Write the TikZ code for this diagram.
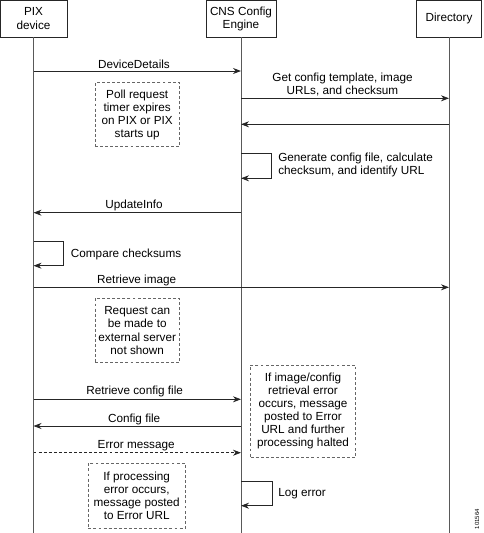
\documentclass[tikz,border=0pt]{standalone}
\usepackage{fontspec}
\setmainfont{Liberation Sans}
\usetikzlibrary{arrows.meta}
\begin{document}
\begin{tikzpicture}[x=0.75pt,y=-0.75pt,
  txt/.style={font=\fontsize{8.8}{9.8}\selectfont, align=center, inner sep=0pt},
  hdr/.style={draw=black!85, line width=0.6pt, font=\fontsize{8.8}{9.8}\selectfont, align=center, inner sep=0pt, outer sep=0pt},
  note/.style={draw=black!60, line width=0.6pt, dash pattern=on 2.2pt off 1.6pt, font=\fontsize{8.8}{9.8}\selectfont, align=center, inner sep=0pt, outer sep=0pt},
  life/.style={draw=black!65, line width=0.6pt},
  msg/.style={draw=black!85, line width=0.6pt, -{Stealth[length=6pt,width=4.5pt]}},
  dmsg/.style={msg, dash pattern=on 2.2pt off 1.6pt}]
\useasboundingbox (0,0) rectangle (484,533);
\def\xp{33.5}\def\xc{241}\def\xd{449}
% headers
\node[hdr, minimum width=50.25pt, minimum height=27.75pt] (pix) at (\xp,18.5) {PIX\\device};
\node[hdr, minimum width=52.5pt, minimum height=27.75pt] (cns) at (\xc,18.5) {CNS Config\\Engine};
\node[hdr, minimum width=49.3pt, minimum height=27.75pt] (dir) at (\xd,18.5) {Directory};
% lifelines
\coordinate (pixend) at (\xp,533);
\coordinate (cnsend) at (\xc,533);
\coordinate (dirend) at (\xd,533);
\draw[life] (pix.south) -- (pixend);
\draw[life] (cns.south) -- (cnsend);
\draw[life] (dir.south) -- (dirend);
% message endpoints
\coordinate (m1a) at (\xp,71);     \coordinate (m1b) at (\xc,71);
\coordinate (m2a) at (\xc,98.3);   \coordinate (m2b) at (\xd,98.3);
\coordinate (m3a) at (\xd,124.3);  \coordinate (m3b) at (\xc,124.3);
\coordinate (g1) at (\xc,153.3);   \coordinate (g2) at (\xc,178.3);
\coordinate (m4a) at (\xc,212.7);  \coordinate (m4b) at (\xp,212.7);
\coordinate (c1) at (\xp,241.7);   \coordinate (c2) at (\xp,265.7);
\coordinate (m5a) at (\xp,287.3);  \coordinate (m5b) at (\xd,287.3);
\coordinate (m6a) at (\xp,399.3);  \coordinate (m6b) at (\xc,399.3);
\coordinate (m7a) at (\xc,426);    \coordinate (m7b) at (\xp,426);
\coordinate (m8a) at (\xp,452.7);  \coordinate (m8b) at (\xc,452.7);
\coordinate (e1) at (\xc,481);     \coordinate (e2) at (\xc,505.7);
% messages
\draw[msg] (m1a) -- (m1b);
\draw[msg] (m2a) -- (m2b);
\draw[msg] (m3a) -- (m3b);
\draw[msg] (g1) -- ++(30.7,0) |- (g2);
\draw[msg] (m4a) -- (m4b);
\draw[msg] (c1) -- ++(30.2,0) |- (c2);
\draw[msg] (m5a) -- (m5b);
\draw[msg] (m6a) -- (m6b);
\draw[msg] (m7a) -- (m7b);
\draw[dmsg] (m8a) -- (m8b);
\draw[msg] (e1) -- ++(31.3,0) |- (e2);
% labels
\node[txt] (l1) at (134,64) {DeviceDetails};
\node[txt] (l2) at (342.5,84.5) {Get config template, image\\URLs, and checksum};
\node[txt, anchor=west, align=left] (l3) at (278,165) {Generate config file, calculate\\checksum, and identify URL};
\node[txt] (l4) at (134,205) {UpdateInfo};
\node[txt, anchor=west] (l5) at (70.7,254) {Compare checksums};
\node[txt] (l6) at (136.7,280) {Retrieve image};
\node[txt] (l7) at (134.7,391.7) {Retrieve config file};
\node[txt] (l8) at (134.2,419) {Config file};
\node[txt] (l9) at (136.2,446) {Error message};
\node[txt, anchor=west] (l10) at (278,494) {Log error};
% notes
\node[note, minimum width=63.2pt, minimum height=48pt] (n1) at (137.2,114.7) {Poll request\\timer expires\\on PIX or PIX\\starts up};
\node[note, minimum width=63.2pt, minimum height=48.3pt] (n2) at (137.2,330.5) {Request can\\be made to\\external server\\not shown};
\node[note, minimum width=78.5pt, minimum height=69.2pt] (n3) at (303,411.2) {If image/config\\retrieval error\\occurs, message\\posted to Error\\URL and further\\processing halted};
\node[note, minimum width=72.5pt, minimum height=48.75pt] (n4) at (136.7,495.8) {If processing\\error occurs,\\message posted\\to Error URL};
% figure number
\node[txt, rotate=90, font=\fontsize{4.5}{5}\selectfont] (fig) at (477,519) {101564};
\end{tikzpicture}
\end{document}
